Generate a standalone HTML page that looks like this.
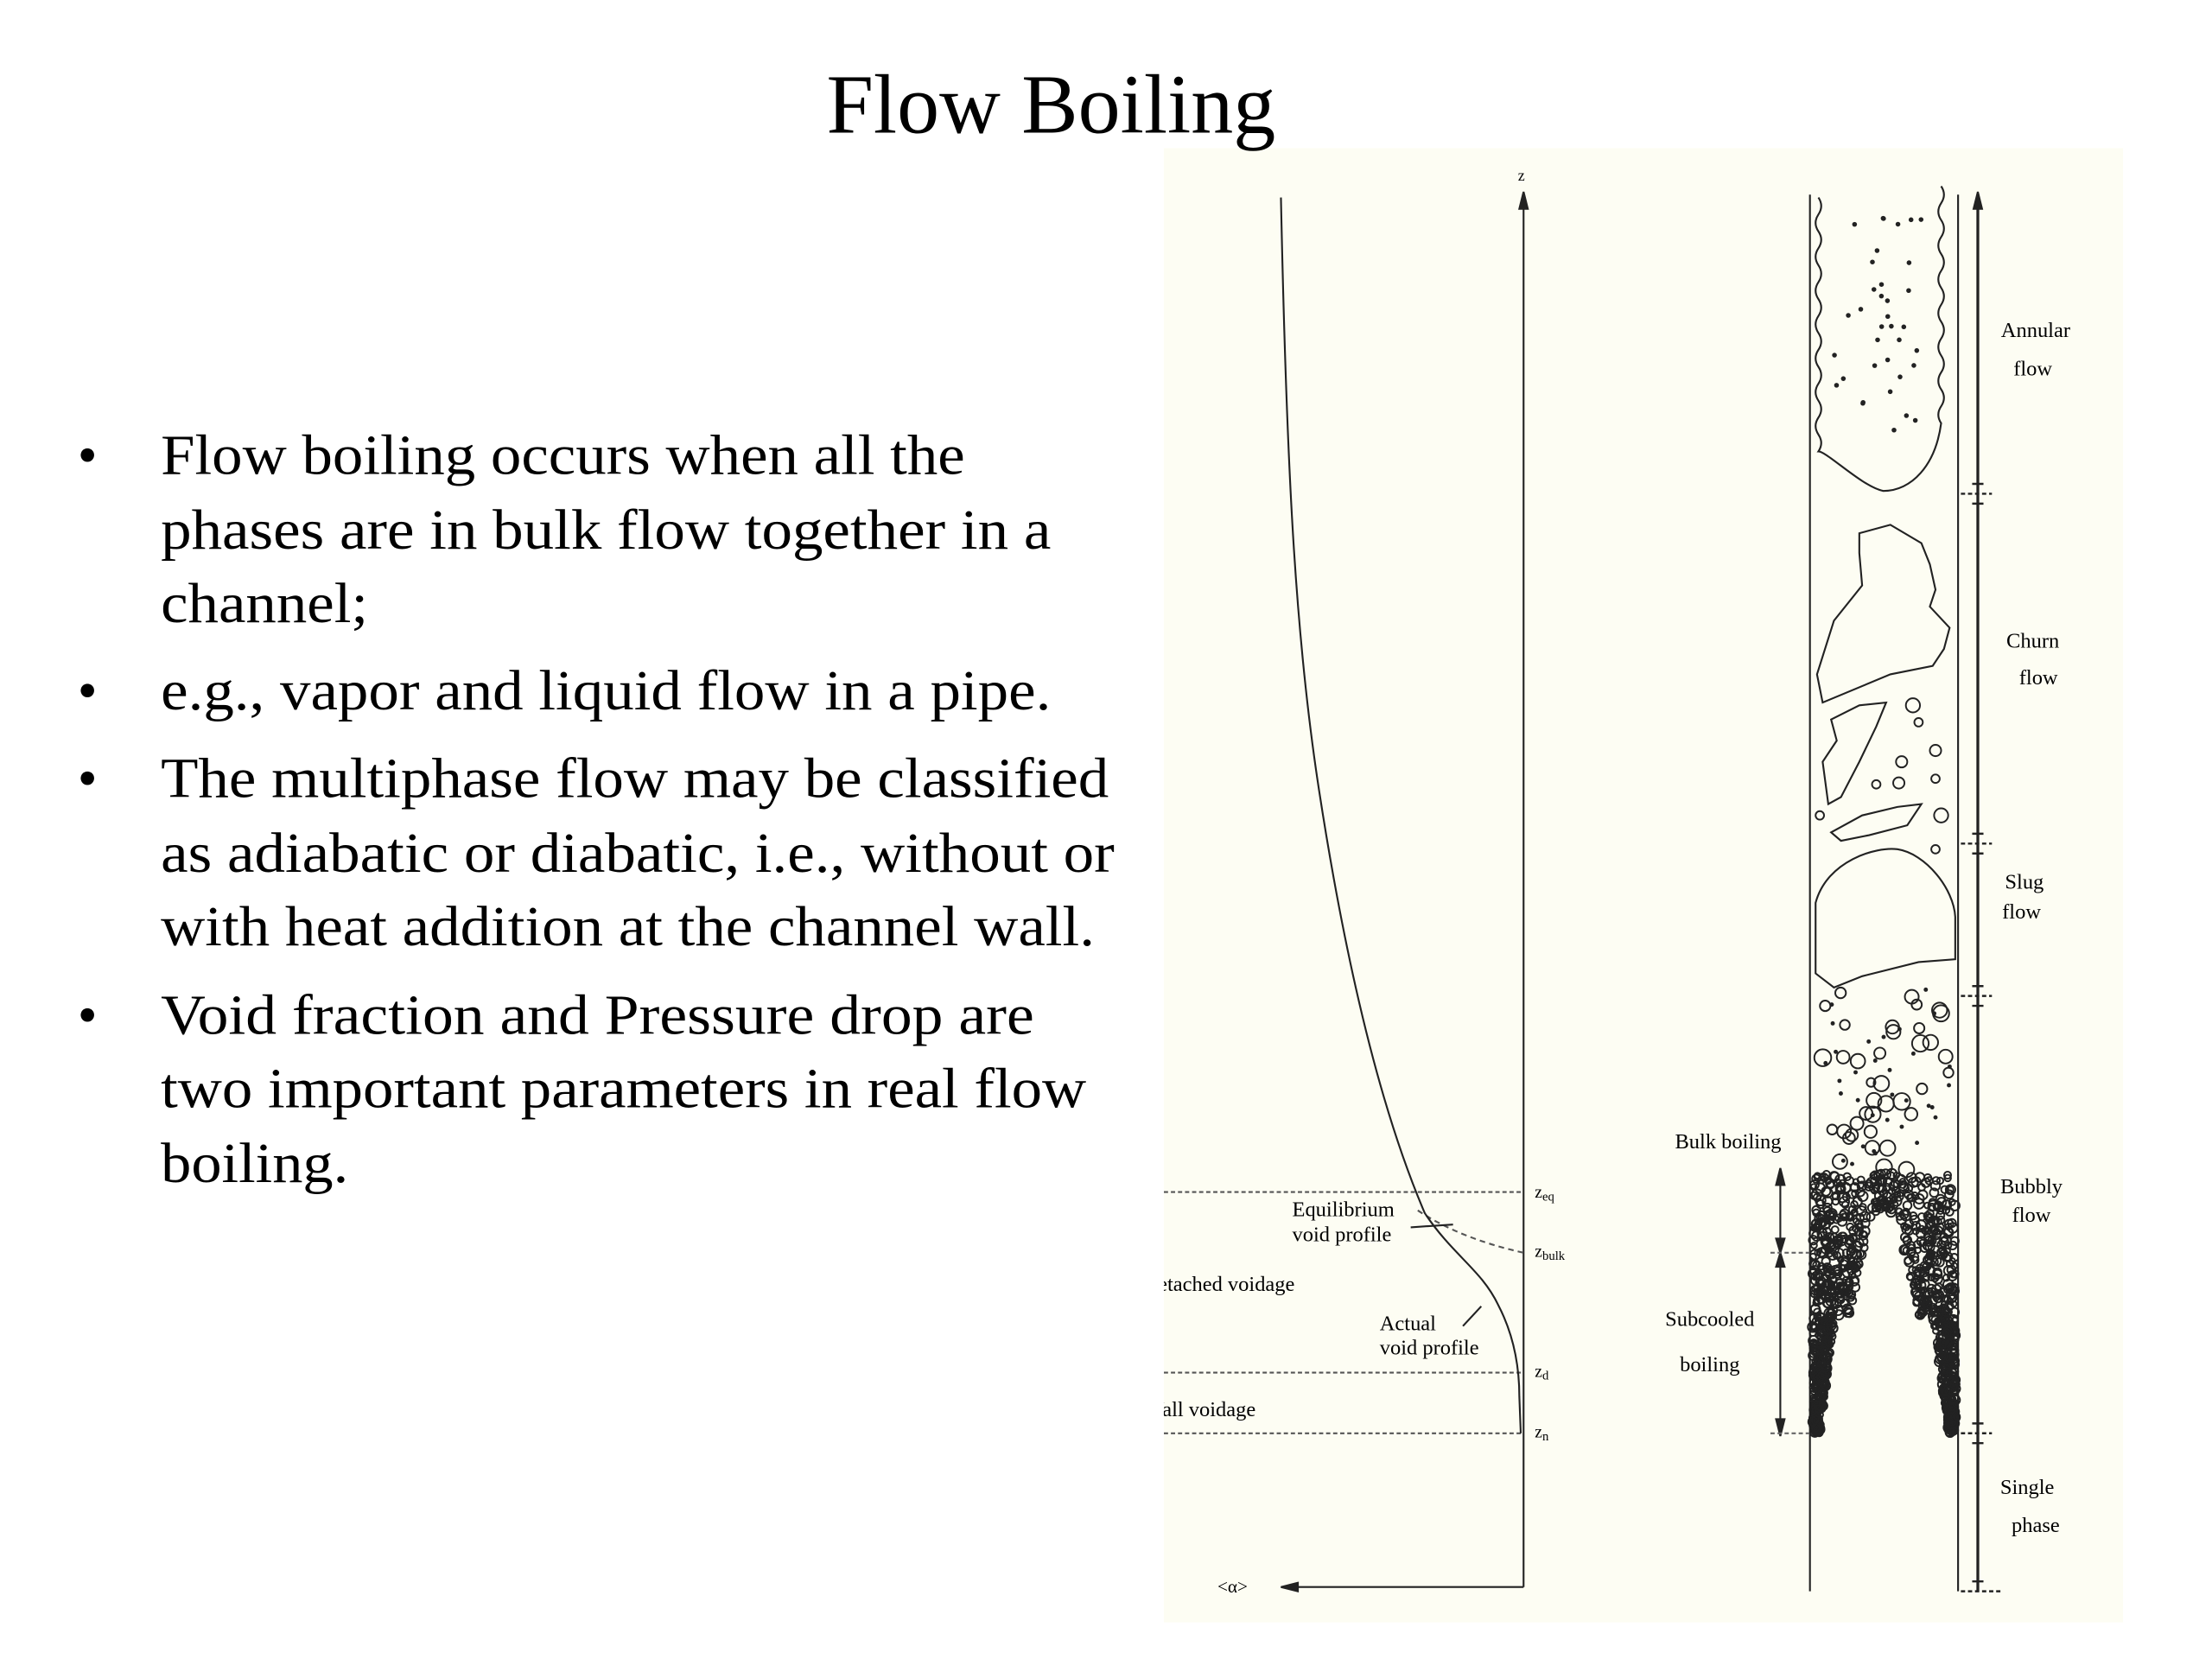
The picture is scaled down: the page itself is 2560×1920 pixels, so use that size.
<!DOCTYPE html>
<html><head><meta charset="utf-8"><style>
html,body{margin:0;padding:0;background:#fff;}
svg{display:block}
text{font-family:"Liberation Serif",serif;fill:#000}
</style></head><body>
<svg id="s" width="2560" height="1920" viewBox="0 0 1568 1176" xmlns="http://www.w3.org/2000/svg">
<rect width="1568" height="1176" fill="#fff"/>
<rect x="825" y="105" width="680" height="1045" fill="#fdfdf3"/>
<text x="745" y="94" font-size="60" text-anchor="middle">Flow Boiling</text>
<g font-size="40" lengthAdjust="spacingAndGlyphs">
<text x="55" y="336">•</text>
<text x="114" y="336" textLength="570" lengthAdjust="spacingAndGlyphs">Flow boiling occurs when all the</text>
<text x="114" y="389" textLength="631" lengthAdjust="spacingAndGlyphs">phases are in bulk flow together in a</text>
<text x="114" y="441" textLength="147" lengthAdjust="spacingAndGlyphs">channel;</text>
<text x="55" y="503">•</text>
<text x="114" y="503" textLength="631" lengthAdjust="spacingAndGlyphs">e.g., vapor and liquid flow in a pipe.</text>
<text x="55" y="565">•</text>
<text x="114" y="565" textLength="672" lengthAdjust="spacingAndGlyphs">The multiphase flow may be classified</text>
<text x="114" y="618" textLength="676" lengthAdjust="spacingAndGlyphs">as adiabatic or diabatic, i.e., without or</text>
<text x="114" y="670" textLength="662" lengthAdjust="spacingAndGlyphs">with heat addition at the channel wall.</text>
<text x="55" y="733">•</text>
<text x="114" y="733" textLength="619" lengthAdjust="spacingAndGlyphs">Void fraction and Pressure drop are</text>
<text x="114" y="785" textLength="656" lengthAdjust="spacingAndGlyphs">two important parameters in real flow</text>
<text x="114" y="838" textLength="133" lengthAdjust="spacingAndGlyphs">boiling.</text>
</g>
<defs><clipPath id="c"><rect x="825" y="105" width="680" height="1045"/></clipPath></defs>
<g clip-path="url(#c)" stroke="#222" fill="none" stroke-width="1.3">
<line x1="1080" y1="140" x2="1080" y2="1125"/>
<path d="M1077,148 L1080,136 L1083,148Z" fill="#222"/>
<line x1="910" y1="1125" x2="1080" y2="1125"/>
<path d="M920,1122 L908,1125 L920,1128Z" fill="#222"/>
<g stroke-dasharray="3,2" stroke="#555">
<line x1="825" y1="845" x2="1080" y2="845"/>
<line x1="825" y1="973" x2="1080" y2="973"/>
<line x1="825" y1="1016" x2="1080" y2="1016"/>
<path d="M1005,858 Q1035,878 1080,888" stroke-dasharray="4,3"/>
</g>
<path d="M908,140 C912,330 918,450 935,560 C955,690 980,790 1010,860 C1030,890 1050,900 1062,925 C1075,950 1077,975 1077,990 L1078,1016"/>
<line x1="1000" y1="870" x2="1030" y2="868"/>
<line x1="1037" y1="940" x2="1050" y2="926"/>
<line x1="1283" y1="138" x2="1283" y2="1128"/>
<line x1="1388" y1="138" x2="1388" y2="1128"/>
<line x1="1402" y1="138" x2="1402" y2="1128" stroke-width="2"/>
<path d="M1399,148 L1402,136 L1405,148Z" fill="#222"/>
<g stroke-width="1.5">
<line x1="1390" y1="350" x2="1412" y2="350" stroke-dasharray="3,2"/>
<line x1="1390" y1="598" x2="1412" y2="598" stroke-dasharray="3,2"/>
<line x1="1390" y1="706" x2="1412" y2="706" stroke-dasharray="3,2"/>
<line x1="1390" y1="1016" x2="1412" y2="1016" stroke-dasharray="3,2"/>
<line x1="1390" y1="1128" x2="1418" y2="1128" stroke-dasharray="3,2"/>
<path d="M1398,343 h8 M1398,357 h8 M1398,591 h8 M1398,605 h8 M1398,699 h8 M1398,713 h8 M1398,1009 h8 M1398,1023 h8 M1398,1121 h8"/>
</g>
<line x1="1262" y1="830" x2="1262" y2="1016"/>
<path d="M1259,840 L1262,828 L1265,840Z M1259,1006 L1262,1018 L1265,1006Z M1259,878 L1262,888 L1265,878Z M1259,898 L1262,888 L1265,898Z" fill="#222"/>
<line x1="1255" y1="888" x2="1283" y2="888" stroke-dasharray="3,2" stroke="#666"/>
<line x1="1255" y1="1016" x2="1283" y2="1016" stroke-dasharray="3,2" stroke="#666"/>
<path d="M1289,140 q4,6 0,12 q-4,6 0,12 q4,6 0,12 q-4,6 0,12 q4,6 0,12 q-4,6 0,12 q4,6 0,12 q-4,6 0,12 q4,6 0,12 q-4,6 0,12 q4,6 0,12 q-4,6 0,12 q4,6 0,12 q-4,6 0,12 q4,6 0,12 C1295,320 1320,345 1335,348 C1355,348 1372,330 1376,300 q-4,-6 0,-12 q4,-6 0,-12 q-4,-6 0,-12 q4,-6 0,-12 q-4,-6 0,-12 q4,-6 0,-12 q-4,-6 0,-12 q4,-6 0,-12 q-4,-6 0,-12 q4,-6 0,-12 q-4,-6 0,-12 q4,-6 0,-12 q-4,-6 0,-12 q4,-6 0,-12"/>
<path d="M1318,378 L1340,372 L1362,385 L1368,400 L1372,418 L1368,430 L1382,445 L1378,460 L1370,472 L1340,478 L1292,498 L1288,478 L1300,440 L1320,415 L1318,392Z"/>
<path d="M1298,510 L1318,500 L1337,498 L1330,515 L1318,540 L1305,565 L1296,570 L1292,540 L1302,525Z"/>
<path d="M1298,590 L1320,578 L1345,572 L1362,570 L1352,585 L1325,592 L1305,596Z"/>
<path d="M1287,690 L1287,640 C1295,610 1330,600 1345,602 C1365,605 1385,630 1386,650 L1386,680 L1360,682 L1320,692 L1300,700 Z"/>
</g>
<g id="dots" fill="#222" stroke="#222"></g>
<g font-size="15" font-family="Liberation Serif" fill="#222">
<text x="1076" y="128" font-size="11">z</text>
<text x="1088" y="849" font-size="12">z<tspan font-size="9" dy="2">eq</tspan></text>
<text x="1088" y="891" font-size="12">z<tspan font-size="9" dy="2">bulk</tspan></text>
<text x="1088" y="976" font-size="12">z<tspan font-size="9" dy="2">d</tspan></text>
<text x="1088" y="1019" font-size="12">z<tspan font-size="9" dy="2">n</tspan></text>
<text x="916" y="862">Equilibrium</text>
<text x="916" y="880">void profile</text>
<text x="978" y="943">Actual</text>
<text x="978" y="960">void profile</text>
<text x="810" y="915" clip-path="url(#c)">Detached voidage</text>
<text x="811" y="1004" clip-path="url(#c)">Wall voidage</text>
<text x="863" y="1129" font-size="13">&lt;α&gt;</text>
<g text-anchor="middle">
<text x="1443" y="239">Annular</text><text x="1441" y="266">flow</text>
<text x="1441" y="459">Churn</text><text x="1445" y="485">flow</text>
<text x="1435" y="630">Slug</text><text x="1433" y="651">flow</text>
<text x="1440" y="846">Bubbly</text><text x="1440" y="866">flow</text>
<text x="1437" y="1059">Single</text><text x="1443" y="1086">phase</text>
<text x="1225" y="814">Bulk boiling</text>
<text x="1212" y="940">Subcooled</text><text x="1212" y="972">boiling</text>
</g>
</g>
<script>
(function(){
var g=document.getElementById('dots'),ns='http://www.w3.org/2000/svg',s=123456789;
function r(){s^=s<<13;s^=s>>>17;s^=s<<5;return ((s>>>0)%100000)/100000;}
for(var k=0;k<10;k++)r();
function c(x,y,rad,fill){var e=document.createElementNS(ns,'circle');e.setAttribute('cx',x);e.setAttribute('cy',y);e.setAttribute('r',rad);e.setAttribute('fill',fill?'#222':'none');e.setAttribute('stroke-width',fill?0:1.2);g.appendChild(e);}
var i;
for(i=0;i<36;i++)c(1300+r()*64,148+r()*160,1.7,1);
var ch=[[1356,500,5],[1360,512,3],[1372,532,4],[1348,540,4],[1372,552,3],[1330,556,3],[1346,555,4],[1376,578,5],[1290,578,3],[1372,602,3]];
ch.forEach(function(a){c(a[0],a[1],a[2],0);});
for(i=0;i<70;i++){var x=1292+r()*92,y=700+r()*130;if(r()<0.5)c(x,y,3+r()*3,0);else c(x,y,1.5,1);}
for(i=0;i<1100;i++){var y=832+r()*184,t=(y-832)/184;var lw=8+(1-t)*40,rw=8+(1-t)*40;if(t<0.15){lw=60;rw=60;}
var side=r()<0.5;var x=side?1285+r()*lw:1386-r()*rw;if(t>0.55){x=side?1285+r()*lw*0.6:1386-r()*rw*0.6;}
c(x,y,2+r()*1.6,0);}
})();
</script>
</svg>
</body></html>
